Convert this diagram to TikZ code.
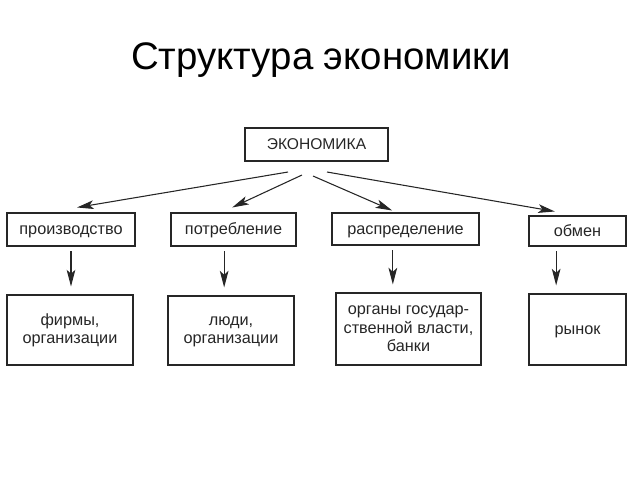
\documentclass[tikz,border=0pt]{standalone}
\usepackage{fontspec}
\setmainfont{Liberation Sans}
\usepackage{tikz}
\usetikzlibrary{arrows.meta}
\tikzset{
>={Stealth[length=12.5pt,width=6.5pt,inset=3pt]}, % long narrow arrow heads
box/.style={draw=black!85, line width=0.8pt, inner sep=0pt, align=center,
  font=\fontsize{12.2}{13.5}\selectfont, text=black!85}, % every framed block
sphere/.style={box, text height=8.7pt, text depth=0.5pt}, % one line blocks
agent/.style={box, text depth=0pt}, % blocks of the bottom row
arr/.style={->, line width=0.8pt, black!85}, % connectors
}

\begin{document}
\begin{tikzpicture}[x=0.75pt,y=-0.75pt]
                \useasboundingbox (0,0) rectangle (640,480);
                \node[anchor=base, font=\fontsize{28.8}{34}\selectfont] (title) at (321,69) {Структура экономики};
                % top block
                \node[box, minimum width=107.25pt, minimum height=24.75pt, font=\fontsize{11.7}{13}\selectfont] (econ) at (316.5,144.5) {ЭКОНОМИКА};
                \coordinate (s1) at (288,172);
                \coordinate (s2) at (302,175);
                \coordinate (s3) at (313,176);
                \coordinate (s4) at (327,172);
                % spheres
                \node[sphere, minimum width=96pt, minimum height=24.75pt] (prod) at (71,229.5) {производство};
                \node[sphere, minimum width=93.75pt, minimum height=24.75pt] (cons) at (233.5,229.5) {потребление};
                \node[sphere, minimum width=110.25pt, minimum height=24pt] (distr) at (405.5,229) {распределение};
                \node[sphere, minimum width=72.75pt, minimum height=22.5pt] (exch) at (577.5,231) {обмен};
                % agents
                \node[agent, text height=19.5pt, minimum width=94.5pt, minimum height=52.5pt] (firms) at (70,330) {фирмы,\\организации};
                \node[agent, text height=18.8pt, minimum width=94.5pt, minimum height=51.75pt] (people) at (231,330.5) {люди,\\организации};
                \node[agent, text height=33.8pt, minimum width=108.75pt, minimum height=54pt, font=\fontsize{12.2}{13.9}\selectfont] (state) at (408.5,329) {органы государ-\\ственной власти,\\банки};
                \node[agent, text height=6.8pt, minimum width=72.75pt, minimum height=53.25pt] (market) at (577.5,329.5) {рынок};
                \path[arr]
                    (s1) edge ([xshift=4.5pt,yshift=3.75pt]prod.north)
                    (s2) edge ([xshift=-1pt,yshift=3.75pt]cons.north)
                    (s3) edge ([xshift=-10pt,yshift=1.5pt]distr.north)
                    (s4) edge ([xshift=-17pt,yshift=3pt]exch.north)
                    ;
                \path[arr, shorten <=3.5pt, shorten >=6pt]
                    (prod.south) edge (prod.south |- firms.north)
                    ([xshift=-7pt]cons.south) edge ([xshift=-7pt]cons.south |- people.north)
                    ([xshift=-9.5pt]distr.south) edge ([xshift=-9.5pt]distr.south |- state.north)
                    ([xshift=-16pt]exch.south) edge ([xshift=-16pt]exch.south |- market.north)
                    ;
                \end{tikzpicture}
\end{document}
